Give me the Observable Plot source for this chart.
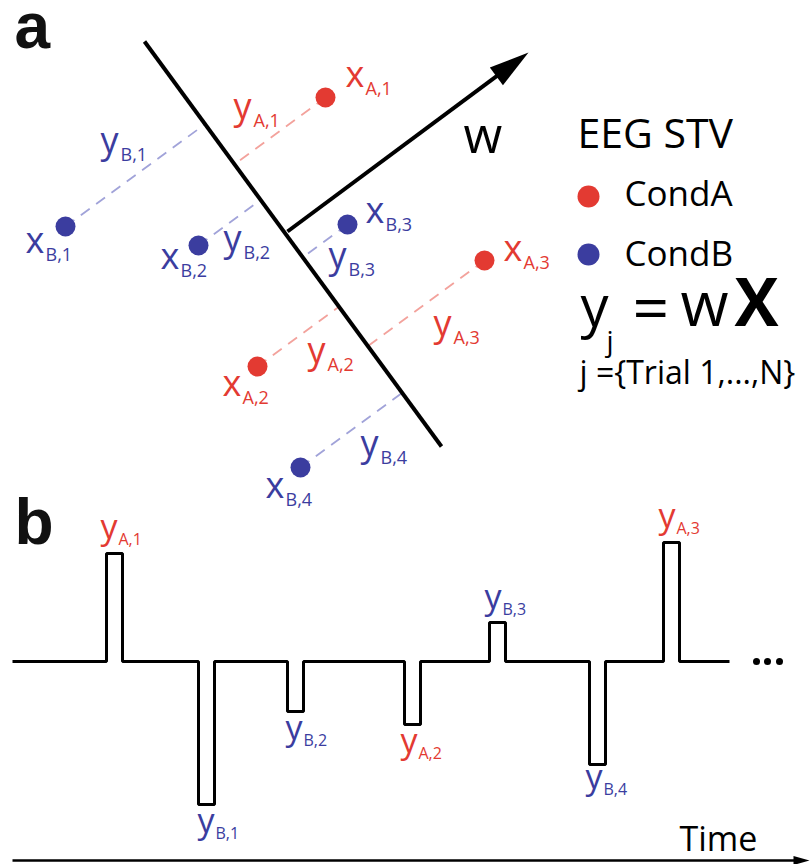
<!DOCTYPE html>
<html>
<head>
<meta charset="utf-8">
<script src="https://cdn.jsdelivr.net/npm/d3@7"></script>
<script src="https://cdn.jsdelivr.net/npm/@observablehq/plot@0.6"></script>
<style>
  html, body { margin: 0; padding: 0; background: #fff; }
  #chart svg { display: block; }
</style>
</head>
<body>
<div id="chart"></div>
<script>
// ---------- DATA ----------
// panel a: trial points in feature space (x, y) and their condition
const pointIds   = ["A,1", "A,2", "A,3", "B,1", "B,2", "B,3", "B,4"];
const pointCond  = ["A", "A", "A", "B", "B", "B", "B"];
const pointX     = [325, 257, 484, 65, 198, 347, 300];
const pointY     = [97, 366, 260, 226, 245, 224, 467];

// decision boundary end points and projection vector w
const boundaryX = [144, 441];
const boundaryY = [41, 446];
const wStart = [287, 231];
const wEnd   = [528, 52];

// label anchors in panel a: [symbol, subscript, cond, x, baseline]
const labelsA = [
  ["x", "A,1", "A", 345, 86],
  ["y", "A,1", "A", 233, 118],
  ["x", "B,1", "B", 25, 252],
  ["y", "B,1", "B", 100, 152],
  ["x", "B,2", "B", 160, 268],
  ["y", "B,2", "B", 223, 250],
  ["x", "B,3", "B", 365, 222],
  ["y", "B,3", "B", 328, 267],
  ["x", "A,3", "A", 503, 260],
  ["y", "A,3", "A", 433, 335],
  ["y", "A,2", "A", 307, 362],
  ["x", "A,2", "A", 222, 395],
  ["y", "B,4", "B", 360, 455],
  ["x", "B,4", "B", 265, 497]
];

// panel b: time series of projections y_j (onset, amplitude)
const pulseIds   = ["A,1", "B,1", "B,2", "A,2", "B,3", "B,4", "A,3"];
const pulseCond  = ["A", "B", "B", "A", "B", "B", "A"];
const pulseOnset = [106, 198, 287, 404, 489, 589, 663];
const pulseAmp   = [108, -143, -50, -63, 39, -103, 119];
const pulseLabelX = [100, 197, 285, 400, 484, 585, 658];
const pulseLabelY = [538, 832, 739, 752, 608, 788, 527];
const seriesStart = 12, seriesEnd = 729, seriesLevel = 661, pulseWidth = 16;
const ellipsisX = [756, 767, 779];

// legend
const legendCats = ["CondA", "CondB"];
const legendCond = ["A", "B"];

// colours
const colorMain  = {A: "#e33a32", B: "#3b3d9f"};
const colorLight = {A: "#f3a29c", B: "#a1a3d9"};

// ---------- DERIVED GEOMETRY ----------
const points = pointIds.map((id, i) => ({id, cond: pointCond[i], x: pointX[i], y: pointY[i]}));
const bx = boundaryX[1] - boundaryX[0], by = boundaryY[1] - boundaryY[0];
const bl = Math.hypot(bx, by), ux = bx / bl, uy = by / bl;
const dashes = points.map(p => {
  const t = (p.x - boundaryX[0]) * ux + (p.y - boundaryY[0]) * uy;
  return {cond: p.cond, x1: p.x, y1: p.y, x2: boundaryX[0] + t * ux, y2: boundaryY[0] + t * uy};
});

function arrowHead(id, x0, y0, x1, y1, len, half) {
  const L = Math.hypot(x1 - x0, y1 - y0), dx = (x1 - x0) / L, dy = (y1 - y0) / L;
  const bxm = x1 - dx * len, bym = y1 - dy * len;
  return [
    {id, x: x1, y: y1},
    {id, x: bxm - dy * half, y: bym + dx * half},
    {id, x: bxm + dy * half, y: bym - dx * half},
    {id, x: x1, y: y1}
  ];
}
const heads = [
  ...arrowHead("w", wStart[0], wStart[1], wEnd[0], wEnd[1], 40, 11),
  ...arrowHead("t", seriesStart, 860, 809, 860, 16, 4.5)
];
// shaft of w stops inside the head
const wLen = Math.hypot(wEnd[0] - wStart[0], wEnd[1] - wStart[1]);
const shaft = [{x1: wStart[0], y1: wStart[1],
  x2: wEnd[0] - (wEnd[0] - wStart[0]) / wLen * 30, y2: wEnd[1] - (wEnd[1] - wStart[1]) / wLen * 30}];

const pulsePath = [{x: seriesStart, y: seriesLevel}];
pulseOnset.forEach((t, i) => {
  const a = seriesLevel - pulseAmp[i];
  pulsePath.push({x: t, y: seriesLevel}, {x: t, y: a}, {x: t + pulseWidth, y: a}, {x: t + pulseWidth, y: seriesLevel});
});
pulsePath.push({x: seriesEnd, y: seriesLevel});

const labA = labelsA.map(([s, sub, cond, x, y]) => ({s, sub, cond, x, y}));
const labB = pulseIds.map((id, i) => ({s: "y", sub: id, cond: pulseCond[i], x: pulseLabelX[i], y: pulseLabelY[i]}));
const legend = legendCats.map((c, i) => ({c, cond: legendCond[i], y: [196, 254][i], ty: [205, 265][i]}));

const font = "'Open Sans', 'Noto Sans', sans-serif";
const bold = "'Liberation Sans', Arial, sans-serif";
const txt = (data, opts) => Plot.text(data, {fontFamily: font, textAnchor: "start", lineAnchor: "bottom", ...opts});

const chart = Plot.plot({
  width: 810,
  height: 864,
  margin: 0,
  x: {domain: [0, 810], range: [0, 810], axis: null},
  y: {domain: [0, 864], range: [0, 864], axis: null},
  style: {background: "#fff", overflow: "visible"},
  marks: [
    // projection dashes
    Plot.link(dashes, {x1: "x1", y1: "y1", x2: "x2", y2: "y2",
      stroke: d => colorLight[d.cond], strokeWidth: 1.8, strokeDasharray: "11,8"}),
    // decision boundary
    Plot.line(boundaryX.map((x, i) => ({x, y: boundaryY[i]})), {x: "x", y: "y", stroke: "black", strokeWidth: 4, strokeLinecap: "butt"}),
    // w vector
    Plot.link(shaft, {x1: "x1", y1: "y1", x2: "x2", y2: "y2", stroke: "black", strokeWidth: 4}),
    Plot.line(heads, {x: "x", y: "y", z: "id", fill: "black", stroke: "none"}),
    // points
    Plot.dot(points, {x: "x", y: "y", r: 10, fill: d => colorMain[d.cond]}),
    // panel a labels
    txt(labA, {x: "x", y: "y", text: "s", fontSize: 36, fill: d => colorMain[d.cond]}),
    txt(labA, {x: "x", y: "y", text: "sub", fontSize: 18, dx: 20, dy: 8, fill: d => colorMain[d.cond]}),
    txt([{x: 463, y: 152}], {x: "x", y: "y", text: () => "w", fontSize: 50, fill: "black"}),
    // legend
    txt([{x: 577, y: 147}], {x: "x", y: "y", text: () => "EEG STV", fontSize: 41, fill: "black"}),
    Plot.dot(legend, {x: () => 588, y: "y", r: 11, fill: d => colorMain[d.cond]}),
    txt(legend, {x: () => 624, y: "ty", text: "c", fontSize: 35, fill: "black"}),
    // equation
    txt([{x: 580, y: 325}], {x: "x", y: "y", text: () => "y", fontSize: 56, fill: "black"}),
    txt([{x: 606, y: 350}], {x: "x", y: "y", text: () => "j", fontSize: 28, fill: "black"}),
    txt([{x: 632, y: 330}], {x: "x", y: "y", text: () => "=", fontSize: 64, fill: "black"}),
    txt([{x: 680, y: 325}], {x: "x", y: "y", text: () => "w", fontSize: 62, fill: "black"}),
    txt([{x: 734, y: 325}], {x: "x", y: "y", text: () => "X", fontSize: 66, fontWeight: "bold", fill: "black"}),
    txt([{x: 579, y: 383}], {x: "x", y: "y", text: () => "j ={Trial 1,...,N}", fontSize: 32, fill: "black"}),
    // panel b series
    Plot.line(pulsePath, {x: "x", y: "y", stroke: "black", strokeWidth: 3, strokeLinejoin: "miter", strokeLinecap: "butt"}),
    Plot.dot(ellipsisX.map(x => ({x})), {x: "x", y: () => seriesLevel, r: 3.5, fill: "black"}),
    txt(labB, {x: "x", y: "y", text: "s", fontSize: 34, fill: d => colorMain[d.cond]}),
    txt(labB, {x: "x", y: "y", text: "sub", fontSize: 16, dx: 18, dy: 6, fill: d => colorMain[d.cond]}),
    // time axis
    Plot.link([{x1: seriesStart, x2: 800, y: 860}], {x1: "x1", x2: "x2", y1: "y", y2: "y", stroke: "black", strokeWidth: 2.5}),
    txt([{x: 679, y: 850}], {x: "x", y: "y", text: () => "Time", fontSize: 34, fill: "black"}),
    // panel letters
    Plot.text([{x: 14, y: 47, t: "a"}, {x: 14, y: 543, t: "b"}], {x: "x", y: "y", text: "t",
      fontFamily: bold, fontWeight: "bold", fontSize: 64, textAnchor: "start", lineAnchor: "bottom", fill: "#111"})
  ]
});
document.getElementById("chart").appendChild(chart);
</script>
</body>
</html>
